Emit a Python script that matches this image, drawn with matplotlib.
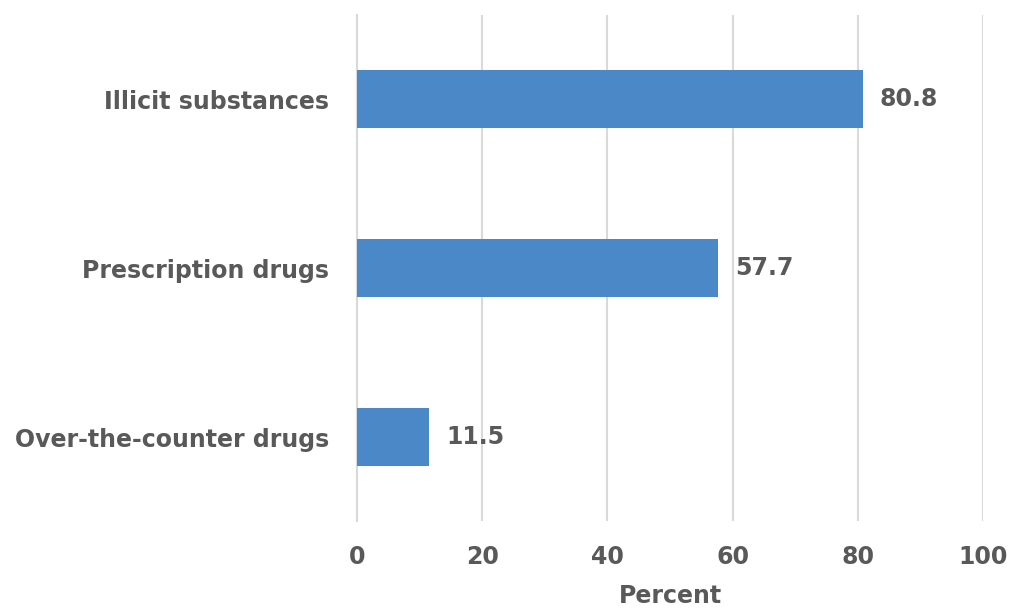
import matplotlib
matplotlib.use("Agg")
import matplotlib.pyplot as plt

categories = ["Over-the-counter drugs", "Prescription drugs", "Illicit substances"]
values = [11.5, 57.7, 80.8]
xticks = [0, 20, 40, 60, 80, 100]

txt = "#595959"
plt.rcParams["font.family"] = ["DejaVu Sans"]
plt.rcParams["font.weight"] = "bold"

fig = plt.figure(figsize=(10.12, 6.08), dpi=100)
ax = fig.add_axes([0.3528, 0.1423, 0.6185, 0.8337])

bars = ax.barh(range(len(categories)), values, height=0.345, color="#4a88c7", zorder=3)
for b, v in zip(bars, values):
    ax.text(b.get_width() + 2.7, b.get_y() + b.get_height() / 2, "{:.1f}".format(v),
            va="center", ha="left", fontsize=17, color=txt, fontweight="bold")

ax.set_xlim(0, 100)
ax.set_ylim(-0.5, 2.5)
ax.set_xticks(xticks)
ax.set_yticks(range(len(categories)))
ax.set_yticklabels(categories)
ax.grid(axis="x", color="#d9d9d9", lw=1.5, zorder=0)
for s in ["top", "right", "bottom"]:
    ax.spines[s].set_visible(False)
ax.spines["left"].set_color("#d9d9d9")
ax.spines["left"].set_linewidth(1.5)
ax.tick_params(axis="both", length=0, labelsize=17, labelcolor=txt)
ax.tick_params(axis="x", pad=17)
ax.tick_params(axis="y", pad=20)
ax.set_xlabel("Percent", fontsize=17, color=txt, fontweight="bold", labelpad=11)

fig.savefig("out.png", dpi=100)
